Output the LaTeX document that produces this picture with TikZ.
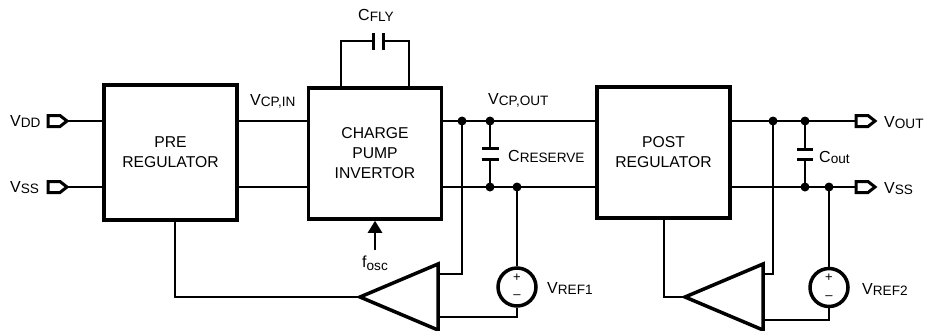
\documentclass[tikz,border=0pt]{standalone}
\usepackage{fontspec}
\setmainfont{Liberation Sans}
\usetikzlibrary{positioning, arrows.meta}
% smaller, slightly lowered index text
\newcommand\lo[2][1pt]{\raisebox{-#1}{\fontsize{13.6}{14}\selectfont #2}}
\tikzset{
    block/.style={draw, line width=3.5pt, minimum width=133pt, minimum height=131pt, align=center, inner sep=0pt, font=\fontsize{15.7}{20}\selectfont},
    wire/.style={line width=2pt},
    plate/.style={line width=3pt},
    amp/.style={line width=3.5pt, line join=miter},
    port/.style={line width=3pt, line join=miter},
    dot/.style={circle, fill, inner sep=0pt, minimum size=9pt},
    vsrc/.style={circle, draw, line width=3.5pt, minimum size=38pt, inner sep=0pt},
    lbl/.style={inner sep=0pt, anchor=base west, font=\fontsize{16}{18}\selectfont},
    sign/.style={inner sep=0pt, font=\fontsize{13}{13}\selectfont},
}

\begin{document}
\begin{tikzpicture}[x=1pt, y=-1pt]
	\useasboundingbox (0,0) rectangle (925,330);
	\pgfmathsetmacro\yT{121}	% upper rail
	\pgfmathsetmacro\yB{187}	% lower rail

	% blocks
	\node[block, minimum height=135pt] (pre) at (170.5,152.5) {PRE\\REGULATOR};
	\node[block] (cp) at (375,153.5) {CHARGE\\PUMP\\INVERTOR};
	\node[block] (post) at (663.5,152.5) {POST\\REGULATOR};

	% pins
	\coordinate (vdd) at (67,\yT);
	\coordinate (vssi) at (67,\yB);
	\coordinate (vout) at (856,\yT);
	\coordinate (vsso) at (856,\yB);
	\foreach \px/\py in {48/\yT, 48/\yB, 856/\yT, 856/\yB}{
		\draw[port] (\px,\py-5.5) -- ++(12,0) -- ++(7,5.5) -- ++(-7,5.5) -- ++(-12,0) -- cycle;
	}

	% junctions
	\coordinate (j1) at (462,\yT);
	\coordinate (j2) at (490,\yT);
	\coordinate (j3) at (490,\yB);
	\coordinate (j4) at (517,\yB);
	\coordinate (j5) at (773,\yT);
	\coordinate (j6) at (805,\yT);
	\coordinate (j7) at (805,\yB);
	\coordinate (j8) at (829,\yB);

	% rails
	\draw[wire] (vdd) -- (vdd -| pre.west);
	\draw[wire] (vssi) -- (vssi -| pre.west);
	\draw[wire] (pre.east |- j1) -- (cp.west |- j1);
	\draw[wire] (pre.east |- j3) -- (cp.west |- j3);
	\draw[wire] (cp.east |- j1) -- (post.west |- j1);
	\draw[wire] (cp.east |- j3) -- (post.west |- j3);
	\draw[wire] (post.east |- j5) -- (vout);
	\draw[wire] (post.east |- j7) -- (vsso);

	% reserve and output capacitors
	\draw[wire] (j2) -- ++(0,27) ++(0,11) -- (j3);
	\draw[plate] (j2) ++(-8.5,27) -- ++(17,0) ++(-17,11) -- ++(17,0);
	\draw[wire] (j6) -- ++(0,28) ++(0,10) -- (j7);
	\draw[plate] (j6) ++(-8,28) -- ++(16,0) ++(-16,10) -- ++(16,0);

	% flying capacitor
	\coordinate (fl) at (341,41);
	\coordinate (fr) at (409,41);
	\draw[wire] (fl |- cp.north) -- (fl) -- ++(32,0);
	\draw[wire] (fr |- cp.north) -- (fr) -- ++(-26,0);
	\draw[plate] (fl) ++(32,-8.5) -- ++(0,17) ++(10,0) -- ++(0,-17);

	% error amplifiers
	\draw[amp] (438,264) -- (438,330) -- (360,297) -- cycle;
	\coordinate (a1) at (360,297);
	\coordinate (a1p) at (438,274);
	\coordinate (a1m) at (438,317);
	\draw[amp] (763,264) -- (763,330) -- (685,297) -- cycle;
	\coordinate (a2) at (685,297);
	\coordinate (a2p) at (763,274);
	\coordinate (a2m) at (763,320);

	% references
	\node[vsrc] (vr1) at (517,287) {};
	\node[sign] (vr1p) at (517,277.5) {+};
	\node[sign] (vr1m) at (517,297) {--};
	\node[vsrc] (vr2) at (829,287.5) {};
	\node[sign] (vr2p) at (829,278) {+};
	\node[sign] (vr2m) at (829,297.5) {--};

	% feedback loops
	\coordinate (pfb) at (175,220);
	\draw[wire] (pfb) |- (a1);
	\draw[wire] (j1) |- (a1p);
	\draw[wire] (j4) -- (vr1.north);
	\draw[wire] (vr1.south) |- (a1m);
	\draw[wire] (post.south) |- (a2);
	\draw[wire] (j5) |- (a2p);
	\draw[wire] (j8) -- (vr2.north);
	\draw[wire] (vr2.south) |- (a2m);

	\foreach \j in {j1,j2,j3,j4,j5,j6,j7,j8}
		\node[dot] at (\j) {};

	% labels
	\node[lbl] (lvdd) at (10,126) {V\lo{DD}};
	\node[lbl] (lvssi) at (10,192) {V\lo{SS}};
	\node[lbl] (lcpin) at (250,105) {V\lo{CP,IN}};
	\node[lbl] (lcpout) at (488,104) {V\lo{CP,OUT}};
	\node[lbl] (lcres) at (508,161) {C\lo{RESERVE}};
	\node[lbl] (lcout) at (819,162) {C\lo{out}};
	\node[lbl] (lvout) at (884,127) {V\lo{OUT}};
	\node[lbl] (lvsso) at (884,193) {V\lo{SS}};
	\node[lbl] (lvr1) at (547,293) {V\lo{REF1}};
	\node[lbl] (lvr2) at (862,294) {V\lo{REF2}};
	\node[lbl] (lfly) at (358,20) {C\lo{FLY}};
	\node[lbl] (fosc) at (362,267) {f\lo[3pt]{osc}};

	% clock input
	\draw[line width=2.5pt, -{Triangle[width=14pt, length=12pt]}, shorten <=5pt] (fosc.north) -- (fosc.north |- cp.south);
\end{tikzpicture}
\end{document}
